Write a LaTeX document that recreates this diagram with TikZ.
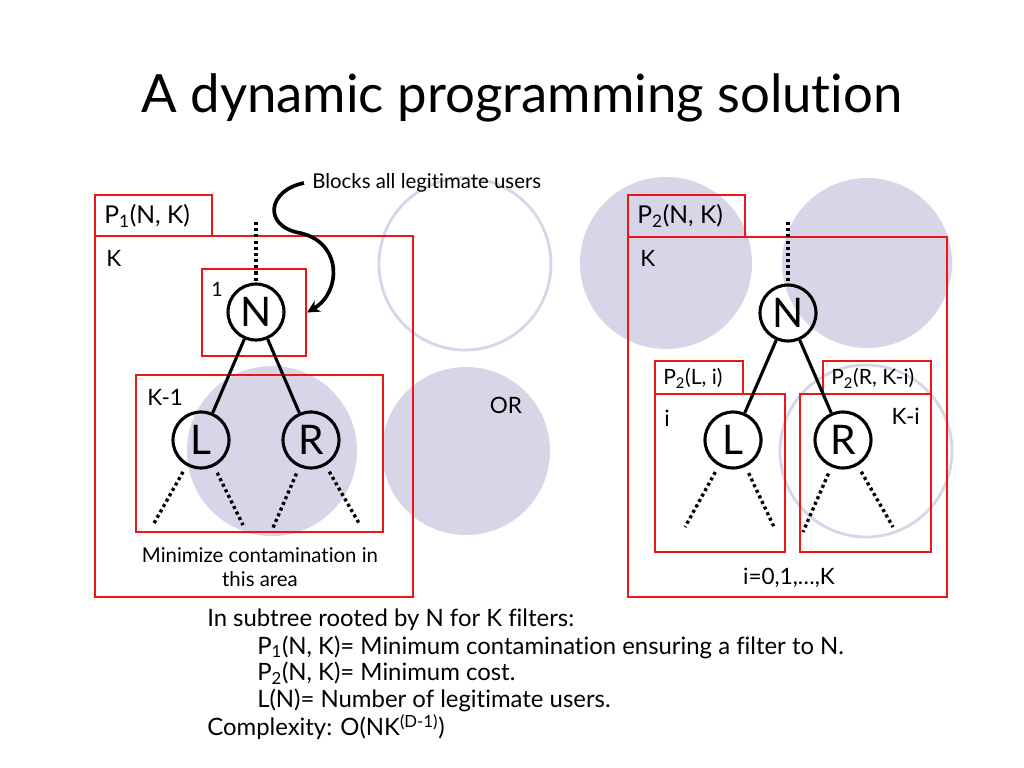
\documentclass[tikz,border=0pt]{standalone}
\usepackage{fontspec}
\setmainfont{Lato}[Ligatures=NoCommon]
\usetikzlibrary{arrows.meta}
\definecolor{lav}{RGB}{214,214,232}
\definecolor{boxred}{RGB}{236,22,22}

\tikzset{
  area/.style={draw=boxred, line width=1.4pt},
  tnode/.style={circle, draw, line width=2.2pt, minimum size=1.4cm, inner sep=0pt, font=\fontsize{29}{29}\selectfont},
  dots/.style={line width=2.4pt, dash pattern=on 2.2pt off 2.2pt, shorten <=5pt},
  cloud/.style={fill=lav},
  ring/.style={draw=lav, line width=2pt},
  lbl/.style={font=\fontsize{16}{18}\selectfont, inner sep=0pt},
  small/.style={font=\fontsize{14.5}{17}\selectfont, inner sep=0pt},
  note/.style={font=\fontsize{17}{20}\selectfont, inner sep=0pt, anchor=west},
}

\begin{document}
\begin{tikzpicture}[x=0.025cm, y=-0.025cm]
  \fill[white] (0,0) rectangle (1024,768);
  \useasboundingbox (0,0) rectangle (1024,768);

  % title
  \node[font=\fontsize{37.5}{40}\selectfont] (title) at (522,98) {A dynamic programming solution};

  % shaded areas
  \fill[cloud] (272,451) circle (85);
  \fill[cloud] (466,451) circle (84);
  \draw[ring] (465,264) circle (86);
  \fill[cloud] (666,263) circle (86);
  \fill[cloud] (867,263) circle (85);
  \draw[ring] (866,451) circle (86);

  % left: P1
  \draw[area] (95,195) rectangle (212,236);
  \draw[area] (95,236) rectangle (413,597);
  \draw[area] (136,375) rectangle (383,532);
  \node[area, anchor=north west, minimum width=2.6cm, minimum height=2.175cm] (boxN) at (201,268) {};
  \node[lbl, anchor=west, font=\fontsize{17.5}{20}\selectfont] (p1) at (104,216) {P\textsubscript{1}(N, K)};
  \node[lbl, anchor=west] (k1) at (106,258) {K};
  \node[lbl, anchor=west] (km1) at (147,397) {K-1};
  \node[lbl, font=\fontsize{14}{16}\selectfont] (one) at (217,289) {1};

  \node[tnode] (N1) at (256,312) {N};
  \node[tnode] (L1) at (201,440) {L};
  \node[tnode] (R1) at (311,440) {R};
  \coordinate (top1) at (256,222);
  \coordinate (l1a) at (153,525);
  \coordinate (l1b) at (243,525);
  \coordinate (r1a) at (272,530);
  \coordinate (r1b) at (360,525);
  \draw[dots, shorten <=0pt] (top1) -- (N1);
  \draw[line width=2.2pt] (N1) -- (L1);
  \draw[line width=2.2pt] (N1) -- (R1);
  \draw[dots] (L1) -- (l1a);
  \draw[dots] (L1) -- (l1b);
  \draw[dots] (R1) -- (r1a);
  \draw[dots] (R1) -- (r1b);

  \node[small, align=center, font=\fontsize{14.5}{17.5}\selectfont] (minc) at (260,567) {Minimize contamination in\\this area};

  \node[small, anchor=west] (blocks) at (312,183) {Blocks all legitimate users};
  \draw[line width=2.6pt, -{Stealth[length=9pt, width=9pt]}] (blocks.west) ++(-8,0)
    .. controls (268,190) and (262,226) .. (300,233)
    .. controls (342,242) and (342,292) .. (boxN.east);

  \node[lbl] (or) at (506,405) {OR};

  % right: P2
  \draw[area] (628,195) rectangle (745,237);
  \draw[area] (628,237) rectangle (947,597);
  \draw[area] (655,361) rectangle (743,394);
  \draw[area] (655,394) rectangle (785,552);
  \draw[area] (823,361) rectangle (931,394);
  \draw[area] (800,394) rectangle (931,552);
  \node[lbl, anchor=west, font=\fontsize{17.5}{20}\selectfont] (p2) at (637,216) {P\textsubscript{2}(N, K)};
  \node[lbl, anchor=west] (k2) at (640,258) {K};
  \node[small, anchor=west, font=\fontsize{15}{17}\selectfont] (p2l) at (663,378) {P\textsubscript{2}(L, i)};
  \node[small, anchor=west, font=\fontsize{15}{17}\selectfont] (p2r) at (831,378) {P\textsubscript{2}(R, K-i)};
  \node[lbl, anchor=west] (ii) at (664,418) {i};
  \node[lbl, anchor=east] (kmi) at (920,416) {K-i};

  \node[tnode] (N2) at (788,313) {N};
  \node[tnode] (L2) at (733,440) {L};
  \node[tnode] (R2) at (843,440) {R};
  \coordinate (top2) at (788,222);
  \coordinate (l2a) at (685,527);
  \coordinate (l2b) at (774,527);
  \coordinate (r2a) at (803,532);
  \coordinate (r2b) at (893,527);
  \draw[dots, shorten <=0pt] (top2) -- (N2);
  \draw[line width=2.2pt] (N2) -- (L2);
  \draw[line width=2.2pt] (N2) -- (R2);
  \draw[dots] (L2) -- (l2a);
  \draw[dots] (L2) -- (l2b);
  \draw[dots] (R2) -- (r2a);
  \draw[dots] (R2) -- (r2b);

  \node[lbl] (range) at (789,578) {i=0,1,…,K};

  % notes
  \node[note] (n0) at (207,620) {In subtree rooted by N for K filters:};
  \node[note] (n1) at (257,647) {P\textsubscript{1}(N, K)= Minimum contamination ensuring a filter to N.};
  \node[note] (n2) at (257,673) {P\textsubscript{2}(N, K)= Minimum cost.};
  \node[note] (n3) at (257,700) {L(N)= Number of legitimate users.};
  \node[note] (n4) at (207,727) {Complexity: O(NK\textsuperscript{(D-1)})};
\end{tikzpicture}
\end{document}
